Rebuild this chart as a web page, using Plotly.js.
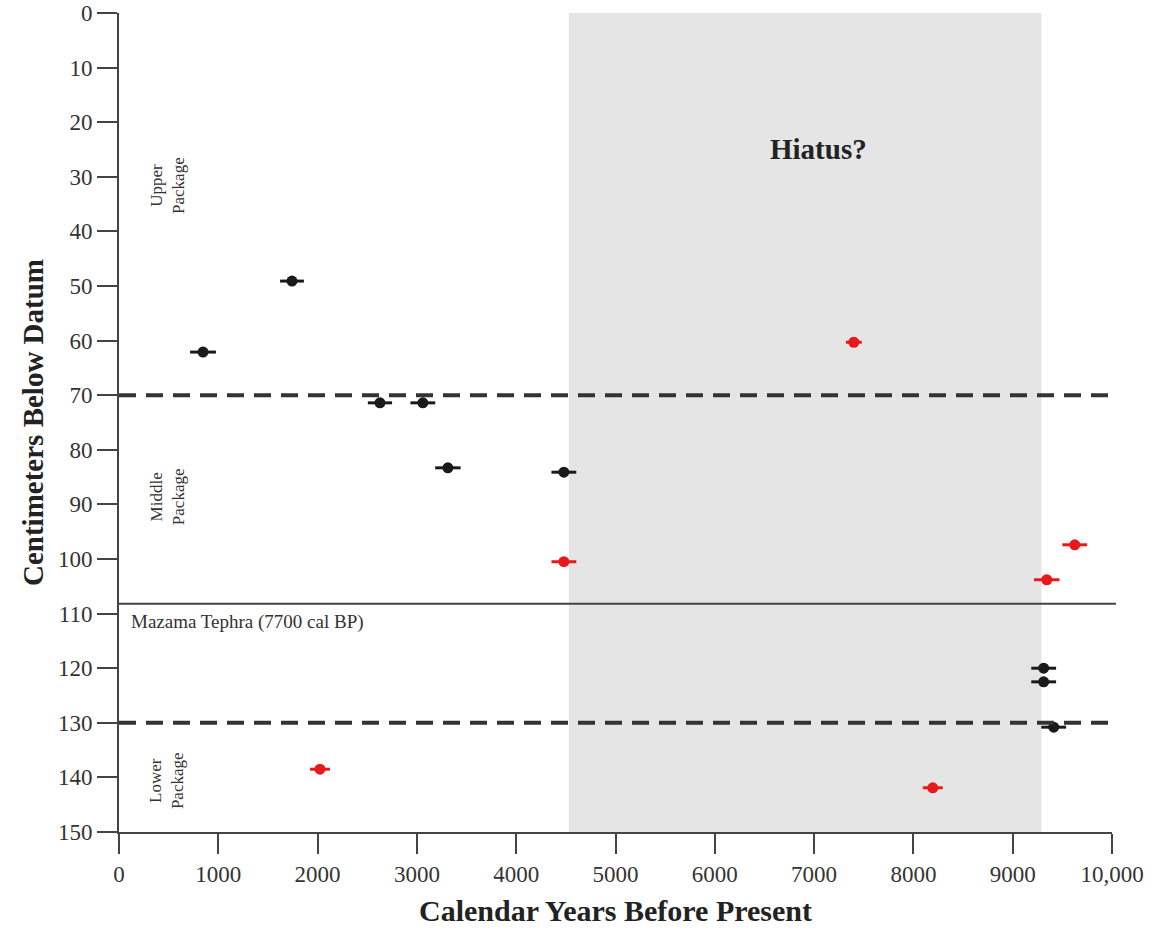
<!DOCTYPE html>
<html>
<head>
<meta charset="utf-8">
<script src="https://cdn.plot.ly/plotly-3.0.1.min.js"></script>
<style>html,body{margin:0;padding:0;background:#fff;}#chart{width:1160px;height:932px;}</style>
</head>
<body>
<div id="chart"></div>
<script>
// Black (charcoal) dates
const blackYears = [846, 1742, 2628, 3060, 3312, 4480, 9312, 9312, 9413];
const blackDepth = [62.1, 49.1, 71.4, 71.4, 83.3, 84.1, 120.0, 122.5, 130.8];
const blackError = [130, 120, 122, 125, 128, 125, 125, 125, 125];
// Red dates
const redYears = [7400, 4480, 9625, 9343, 2024, 8195];
const redDepth = [60.3, 100.5, 97.4, 103.8, 138.5, 141.9];
const redError = [80, 125, 125, 128, 100, 100];
// Axis ticks
const xTickVals = [0, 1000, 2000, 3000, 4000, 5000, 6000, 7000, 8000, 9000, 10000];
const xTickText = ["0", "1000", "2000", "3000", "4000", "5000", "6000", "7000", "8000", "9000", "10,000"];
const yTickVals = [0, 10, 20, 30, 40, 50, 60, 70, 80, 90, 100, 110, 120, 130, 140, 150];
// Reference features
const hiatusStart = 4530, hiatusEnd = 9290;
const packageBoundaries = [70, 130];
const tephraDepth = 108.2;

const serif = "Liberation Serif, Times New Roman, serif";

const traces = [
  {
    x: blackYears, y: blackDepth, type: "scatter", mode: "markers",
    marker: {color: "#1a1a1a", size: 11},
    error_x: {type: "data", array: blackError, visible: true, color: "#1a1a1a", thickness: 3, width: 0},
    showlegend: false, hoverinfo: "x+y"
  },
  {
    x: redYears, y: redDepth, type: "scatter", mode: "markers",
    marker: {color: "#e8191c", size: 11},
    error_x: {type: "data", array: redError, visible: true, color: "#e8191c", thickness: 3, width: 0},
    showlegend: false, hoverinfo: "x+y"
  }
];

const shapes = [
  {type: "rect", xref: "x", yref: "y", x0: hiatusStart, x1: hiatusEnd, y0: 0, y1: 150,
   fillcolor: "#e5e5e5", line: {width: 0}, layer: "below"},
  {type: "line", xref: "paper", yref: "y", x0: 0, x1: 1.004, y0: tephraDepth, y1: tephraDepth,
   line: {color: "#444", width: 2}, layer: "above"}
];
packageBoundaries.forEach(d => shapes.push({
  type: "line", xref: "paper", yref: "y", x0: 0, x1: 1, y0: d, y1: d,
  line: {color: "#333", width: 4, dash: "17px,10px"}, layer: "above"
}));

const annotations = [
  {x: 7045, y: 24.9, xref: "x", yref: "y", text: "<b>Hiatus?</b>", showarrow: false,
   font: {family: serif, size: 29, color: "#222"}},
  {x: 493, y: 31.5, xref: "x", yref: "y", text: "Upper<br>Package", showarrow: false, textangle: -90,
   font: {family: serif, size: 17, color: "#333"}},
  {x: 483, y: 88.5, xref: "x", yref: "y", text: "Middle<br>Package", showarrow: false, textangle: -90,
   font: {family: serif, size: 17, color: "#333"}},
  {x: 473, y: 140.5, xref: "x", yref: "y", text: "Lower<br>Package", showarrow: false, textangle: -90,
   font: {family: serif, size: 17, color: "#333"}},
  {x: 100, y: 111.5, xref: "x", yref: "y", text: "Mazama Tephra (7700 cal BP)", showarrow: false,
   xanchor: "left", font: {family: serif, size: 19, color: "#333"}}
];

const layout = {
  width: 1160, height: 932,
  margin: {l: 119, r: 48, t: 13, b: 100},
  paper_bgcolor: "#fff", plot_bgcolor: "#fff",
  font: {family: serif, color: "#333"},
  showlegend: false,
  xaxis: {
    range: [0, 10000], tickvals: xTickVals, ticktext: xTickText,
    showline: true, linecolor: "#444", linewidth: 2, mirror: false,
    ticks: "outside", ticklen: 20, tickwidth: 2, tickcolor: "#444",
    showgrid: false, zeroline: false,
    tickfont: {family: serif, size: 23, color: "#333"},
    title: {text: "<b>Calendar Years Before Present</b>", standoff: 14,
            font: {family: serif, size: 30, color: "#222"}}
  },
  yaxis: {
    range: [150, 0], tickvals: yTickVals,
    showline: true, linecolor: "#444", linewidth: 2,
    ticks: "outside", ticklen: 20, tickwidth: 2, tickcolor: "#444",
    showgrid: false, zeroline: false,
    tickfont: {family: serif, size: 23, color: "#333"},
    title: {text: "<b>Centimeters Below Datum</b>", standoff: 6,
            font: {family: serif, size: 29, color: "#222"}}
  },
  shapes: shapes,
  annotations: annotations
};

Plotly.newPlot("chart", traces, layout, {displayModeBar: false, staticPlot: true});
</script>
</body>
</html>
